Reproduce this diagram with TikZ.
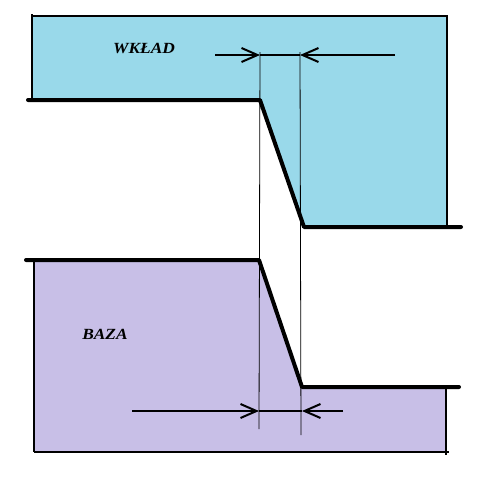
\documentclass[tikz,border=0pt]{standalone}
\usepackage{fontspec}
\setmainfont{Liberation Serif}
\usetikzlibrary{arrows.meta}
\definecolor{wkladblue}{HTML}{99D9EA}
\definecolor{bazapurple}{HTML}{C8BFE7}

\begin{document}
\begin{tikzpicture}[x=1pt, y=-1pt,
    profile/.style={line width=4pt, line cap=round, line join=round},
    edge/.style={line width=1.2pt},
    guide/.style={line width=0.8pt},
    dimline/.style={line width=2pt},
    dimarrow/.style={line width=2pt, -{Straight Barb[length=16pt, width=14pt]}},
    label/.style={font=\fontsize{15.5}{15.5}\selectfont\bfseries\itshape, inner sep=0pt, xscale=1.12}]
    \useasboundingbox (0,0) rectangle (488,483);

    % upper part
    \fill[wkladblue] (32,16) -- (447,16) -- (447,227) -- (304,227) -- (260,100) -- (32,100) -- cycle;
    \draw[edge] (32,14) -- (32,100);
    \draw[edge] (32,16) -- (448,16);
    \draw[edge] (447,16) -- (447,227);

    % lower part
    \fill[bazapurple] (34,260) -- (259,260) -- (302,387) -- (446,387) -- (446,452) -- (34,452) -- cycle;
    \draw[edge] (34,260) -- (34,452);
    \draw[edge] (34,452) -- (449,452);
    \draw[edge] (446,387) -- (446,455);

    % guides
    \coordinate (g1top) at (260,52);
    \coordinate (g1bot) at (259,429);
    \coordinate (g2top) at (300,52);
    \coordinate (g2bot) at (301,435);
    \draw[guide] (g1top) -- (g1bot);
    \draw[guide] (g2top) -- (g2bot);

    % profiles
    \draw[profile] (28,100) -- (260,100) -- (304,227) -- (461,227);
    \draw[profile] (26,260) -- (259,260) -- (302,387) -- (459,387);

    % dimensions
    \coordinate (tl) at (215,55);
    \coordinate (t1) at (260,55);
    \coordinate (t2) at (300,55);
    \coordinate (tr) at (395,55);
    \draw[dimarrow] (tl) -- (t1);
    \draw[dimline] (t1) -- (t2);
    \draw[dimarrow] (tr) -- (t2);

    \coordinate (bl) at (132,411);
    \coordinate (b1) at (259,411);
    \coordinate (b2) at (302,411);
    \coordinate (br) at (343,411);
    \draw[dimarrow] (bl) -- (b1);
    \draw[dimline] (b1) -- (b2);
    \draw[dimarrow] (br) -- (b2);

    \node[label] (wklad) at (144,48) {WKŁAD};
    \node[label] (baza) at (105,334) {BAZA};
\end{tikzpicture}
\end{document}
